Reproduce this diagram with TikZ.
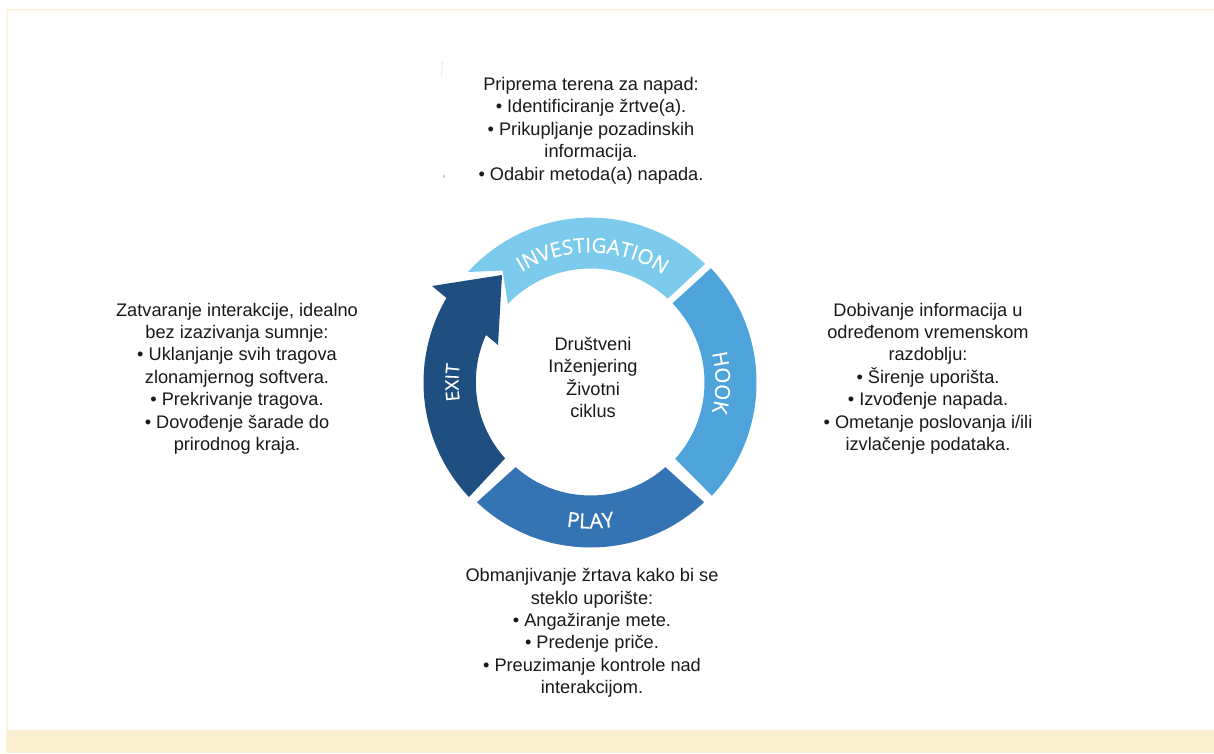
\documentclass[tikz,border=0pt]{standalone}
\usepackage{fontspec}
\setmainfont{Liberation Sans}
\newfontfamily\ringfont[FakeBold=0.5]{Open Sans}
\usetikzlibrary{decorations.text}
\definecolor{bandc}{HTML}{FBEFD1}
\definecolor{framec}{HTML}{FDF3DE}
\definecolor{invc}{HTML}{7CCAEC}
\definecolor{hookc}{HTML}{4EA3DA}
\definecolor{playc}{HTML}{3574B4}
\definecolor{exitc}{HTML}{1F4F80}
\tikzset{
  x=1pt,y=1pt,
  blurb/.style={align=center,font=\fontsize{18.2}{22.4}\selectfont,text=black!90,inner sep=0pt},
  ringtext/.style 2 args={decorate,decoration={text along path,text align=center,text color=white,text={|\ringfont\fontsize{#1}{#1}\selectfont|#2}}},
}
\begin{document}
\begin{tikzpicture}
\useasboundingbox (0,0) rectangle (1214,753);
\fill[white] (0,0) rectangle (1214,753);
\fill[bandc] (6,0) rectangle (1214,23);
\draw[framec,line width=1.5pt] (6.75,23) -- (6.75,743) -- (1214,743);
% faint specks
\draw[black!12,line width=0.7pt] (441.5,677) -- (442.5,691);
\fill[black!18] (443,575) rectangle (445,578);
\begin{scope}[shift={(590.5,370.5)}]
% investigation
\fill[invc] (-122.5,110.5) arc[start angle=137.9,end angle=46,radius=165]
  -- (47.3:114) arc[start angle=47.3,end angle=136.4,radius=114] -- (-88,112) -- cycle;
% hook
\fill[hookc] (43.5:166) arc[start angle=43.5,end angle=-43,radius=166]
  -- (-42:114) arc[start angle=-42,end angle=44,radius=114] -- cycle;
% play
\fill[playc] (-46.5:165) arc[start angle=-46.5,end angle=-133.5,radius=165]
  -- (-131.5:113) arc[start angle=-131.5,end angle=-48.5,radius=113] -- cycle;
% exit
\fill[exitc] (223.3:167) arc[start angle=223.3,end angle=149.6,radius=167]
  -- (-158.5,96.5) -- (-88.5,107.5) -- (-92.5,37.5) -- (-104.5,47.5)
  arc[start angle=155.6,end angle=222,radius=114] -- cycle;
% ring labels
\path[ringtext={20.5}{INVESTIGATION}] (127:130) arc[start angle=127,end angle=51,radius=130];
\path[ringtext={20.5}{HOOK}] (25:125) arc[start angle=25,end angle=-25,radius=125];
\path[ringtext={21}{PLAY}] (-118:146) arc[start angle=-118,end angle=-62,radius=146];
\path[ringtext={18.5}{EXIT}] (197:132) arc[start angle=197,end angle=163,radius=132];
\end{scope}
\node[blurb] (centre) at (593,375.5) {Društveni\\Inženjering\\Životni\\ciklus};
\node[blurb] (top) at (591,622.5) {Priprema terena za napad:\\• Identificiranje žrtve(a).\\• Prikupljanje pozadinskih\\informacija.\\• Odabir metoda(a) napada.};
\node[blurb] (left) at (237,374.5) {Zatvaranje interakcije, idealno\\bez izazivanja sumnje:\\• Uklanjanje svih tragova\\zlonamjernog softvera.\\• Prekrivanje tragova.\\• Dovođenje šarade do\\prirodnog kraja.};
\node[blurb] (right) at (928,374.5) {Dobivanje informacija u\\određenom vremenskom\\razdoblju:\\• Širenje uporišta.\\• Izvođenje napada.\\• Ometanje poslovanja i/ili\\izvlačenje podataka.};
\node[blurb] (bottom) at (592,120) {Obmanjivanje žrtava kako bi se\\steklo uporište:\\• Angažiranje mete.\\• Predenje priče.\\• Preuzimanje kontrole nad\\interakcijom.};
\end{tikzpicture}
\end{document}
